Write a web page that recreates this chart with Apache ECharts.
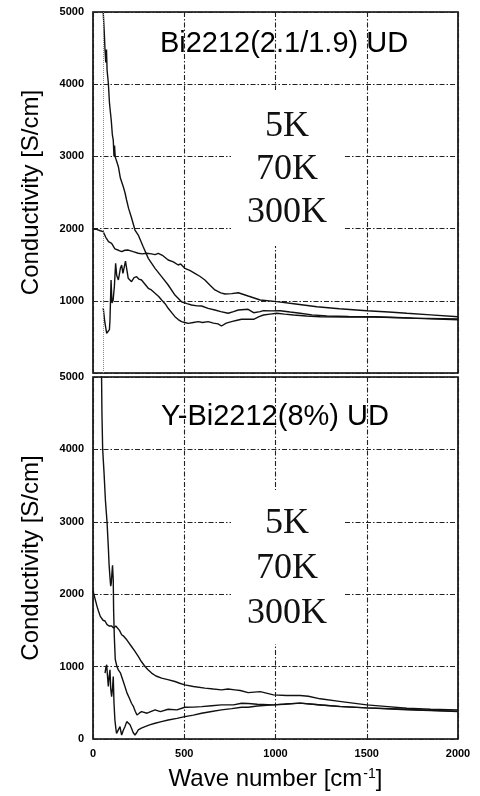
<!DOCTYPE html>
<html>
<head>
<meta charset="utf-8">
<script src="https://cdn.jsdelivr.net/npm/echarts@6/dist/echarts.min.js"></script>
<style>
html,body{margin:0;padding:0;background:#fff;}
#c{width:480px;height:796px;}
</style>
</head>
<body>
<div id="c"></div>
<script>
// ---- data (wave number [cm-1], conductivity [S/cm]) ----
const panelTitles = ['Bi2212(2.1/1.9) UD', 'Y-Bi2212(8%) UD'];
const tempLabels = ['5K', '70K', '300K'];
const xTicks = [0, 500, 1000, 1500, 2000];
const yTicks = [0, 1000, 2000, 3000, 4000, 5000];
const topMarkerX = [55];

const top70K = [[50,5600],[56,5000],[62,4700],[66,4470],[70,4300],[74,4480],[77,4200],[84,4017],[90,3750],[93,3670],[100,3500],[106,3300],[111,3227],[115,3000],[118,3150],[122,2990],[130,2930],[139,2857],[150,2700],[166,2580],[175,2500],[184,2396],[195,2280],[211,2150],[230,1980],[248,1911],[275,1749],[303,1588],[340,1450],[376,1334],[412,1219],[449,1080],[485,987],[515,960],[540,942],[570,930],[595,928],[631,896],[668,873],[700,850],[741,827],[770,850],[796,873],[850,882],[880,835],[916,850],[934,863],[980,860],[1026,863],[1080,845],[1135,827],[1200,805],[1281,789],[1400,782],[1537,780],[1700,765],[1850,750],[2000,738]];
const top300K = [[0,1990],[20,1990],[40,1970],[56,1957],[70,1880],[85,1820],[102,1796],[120,1720],[140,1700],[157,1680],[175,1700],[193,1703],[220,1680],[248,1658],[270,1650],[294,1658],[320,1650],[340,1640],[358,1658],[380,1630],[412,1565],[440,1540],[467,1496],[480,1510],[503,1450],[530,1420],[558,1380],[585,1340],[613,1288],[640,1220],[668,1150],[700,1110],[723,1094],[760,1100],[796,1112],[850,1066],[916,1011],[1007,988],[1100,960],[1227,918],[1350,890],[1500,863],[1620,845],[1720,827],[1850,805],[2000,780]];
const top5K = [[56,900],[65,700],[75,550],[84,526],[90,600],[93,734],[97,1100],[99,1288],[104,970],[110,1000],[117,1195],[124,1519],[130,1350],[139,1288],[150,1450],[157,1496],[164,1380],[171,1400],[178,1550],[184,1565],[193,1311],[211,1265],[225,1320],[239,1334],[252,1300],[266,1288],[285,1230],[303,1173],[320,1150],[340,1104],[360,1060],[376,1011],[395,960],[412,896],[430,840],[449,780],[467,740],[485,711],[503,700],[522,688],[550,700],[577,711],[600,700],[631,711],[660,690],[685,680],[704,651],[730,690],[759,711],[790,730],[814,744],[850,744],[880,744],[910,780],[934,803],[970,815],[1007,827],[1050,815],[1099,803],[1170,790],[1245,780],[1400,775],[1537,775],[1750,760],[2000,748]];

const bot70K = [[42,5300],[47,5000],[49,4500],[53,4000],[60,3700],[68,3300],[77,2992],[84,2650],[88,2415],[93,2230],[97,2110],[100,2150],[104,2300],[107,2400],[109,2410],[111,2200],[113,1773],[117,1400],[122,1100],[131,1001],[139,955],[150,914],[165,800],[175,725],[186,637],[200,560],[211,494],[222,447],[232,380],[241,332],[255,360],[266,378],[296,356],[340,402],[369,378],[412,411],[460,402],[503,439],[550,440],[595,447],[650,460],[704,471],[770,471],[814,494],[850,490],[900,480],[989,471],[1050,480],[1135,495],[1250,470],[1354,447],[1500,430],[1720,410],[1850,395],[2000,385]];
const bot300K = [[0,2050],[10,1950],[22,1832],[30,1769],[40,1694],[55,1640],[66,1630],[77,1579],[90,1560],[102,1561],[113,1533],[125,1560],[131,1555],[145,1500],[157,1440],[168,1420],[185,1370],[211,1278],[230,1210],[248,1140],[265,1070],[285,1001],[300,960],[321,910],[345,870],[376,840],[410,820],[449,794],[475,770],[503,748],[550,725],[613,702],[660,690],[704,679],[740,690],[777,679],[807,670],[850,641],[916,655],[989,610],[1060,600],[1135,600],[1180,590],[1245,555],[1350,520],[1500,471],[1600,450],[1720,425],[1850,410],[2000,402]];
const bot5K = [[66,910],[70,980],[75,1025],[80,850],[84,725],[88,850],[93,955],[97,700],[102,586],[107,700],[111,863],[115,500],[120,263],[125,150],[129,78],[138,100],[148,170],[153,100],[157,55],[166,120],[175,170],[185,240],[193,263],[202,200],[211,148],[220,90],[230,55],[240,90],[248,125],[265,150],[285,170],[310,195],[340,217],[375,240],[412,263],[460,285],[503,309],[550,330],[595,356],[650,380],[704,402],[760,420],[814,439],[850,439],[900,455],[989,471],[1060,485],[1135,495],[1250,470],[1354,450],[1500,430],[1720,405],[1850,392],[2000,380]];

// ---- chart ----
const chart = echarts.init(document.getElementById('c'), null, {renderer: 'canvas'});
const FONT = 'Liberation Sans, Arial, sans-serif';
const gridLine = {show: true, lineStyle: {color: '#222', width: 1.1, type: [5, 2, 1.5, 2]}};
const xStep = xTicks[1] - xTicks[0];
const yStep = yTicks[1] - yTicks[0];

function xAxis(gi, showLabels) {
  return {
    type: 'value', gridIndex: gi,
    min: xTicks[0], max: xTicks[xTicks.length - 1], interval: xStep,
    axisLine: {show: false}, axisTick: {show: false},
    splitLine: gridLine,
    axisLabel: {show: showLabels, color: '#000', fontFamily: FONT, fontWeight: 'bold', fontSize: 11, margin: 9,
      formatter: v => String(v)},
    name: showLabels ? 'Wave number [cm{sup|-1}]' : '',
    nameLocation: 'middle', nameGap: 28,
    nameTextStyle: {
      color: '#000', fontFamily: FONT, fontSize: 24,
      rich: {sup: {fontFamily: FONT, fontSize: 14, color: '#000', verticalAlign: 'top', padding: [0, 0, 8, 1]}}
    }
  };
}
function yAxis(gi, hideZero) {
  return {
    type: 'value', gridIndex: gi,
    min: yTicks[0], max: yTicks[yTicks.length - 1], interval: yStep,
    axisLine: {show: false}, axisTick: {show: false},
    splitLine: gridLine,
    axisLabel: {color: '#000', fontFamily: FONT, fontWeight: 'bold', fontSize: 11, margin: 9,
      formatter: v => (hideZero && v === 0) ? '' : String(v)},
    name: 'Conductivity [S/cm]', nameLocation: 'middle', nameGap: 50,
    nameTextStyle: {color: '#000', fontFamily: FONT, fontSize: 24}
  };
}
function line(name, data, xi, extra) {
  return Object.assign({
    name: name, type: 'line', xAxisIndex: xi, yAxisIndex: xi, data: data,
    showSymbol: false, symbol: 'none', clip: true, smooth: false,
    lineStyle: {color: '#111', width: 1.4}, z: 3
  }, extra || {});
}
const tempText = tempLabels.join('\n');
const serifStyle = {fontFamily: 'Liberation Serif, Times New Roman, serif', fontSize: 36, fontWeight: 'normal', color: '#111'};

chart.setOption({
  animation: false,
  backgroundColor: '#fff',
  grid: [
    {left: 93, top: 12, width: 365, height: 361, show: true, borderColor: '#000', borderWidth: 1.6, backgroundColor: 'transparent', outerBoundsMode: 'none'},
    {left: 93, top: 377, width: 365, height: 362, show: true, borderColor: '#000', borderWidth: 1.6, backgroundColor: 'transparent', outerBoundsMode: 'none'}
  ],
  title: [
    {text: panelTitles[0], left: 284, top: 29, textAlign: 'center', padding: 0,
      textStyle: {fontFamily: FONT, fontSize: 29, fontWeight: 'normal', color: '#000'}},
    {text: panelTitles[1], left: 275, top: 402, textAlign: 'center', padding: 0,
      textStyle: {fontFamily: FONT, fontSize: 29, fontWeight: 'normal', color: '#000'}},
    {text: tempText, left: 271, top: 90, textAlign: 'center', backgroundColor: '#fff', padding: [15, 16, 12, 16],
      textStyle: Object.assign({lineHeight: 43}, serifStyle)},
    {text: tempText, left: 271, top: 490, textAlign: 'center', backgroundColor: '#fff', padding: [11, 16, 8, 16],
      textStyle: Object.assign({lineHeight: 45}, serifStyle)}
  ],
  xAxis: [xAxis(0, false), xAxis(1, true)],
  yAxis: [yAxis(0, true), yAxis(1, false)],
  series: [
    line('70K', top70K, 0),
    line('300K', top300K, 0),
    line('5K', top5K, 0, {
      markLine: {silent: true, symbol: 'none', label: {show: false},
        lineStyle: {color: '#888', type: 'dotted', width: 1},
        data: topMarkerX.map(v => ({xAxis: v}))}
    }),
    line('70K', bot70K, 1),
    line('300K', bot300K, 1),
    line('5K', bot5K, 1)
  ]
});
</script>
</body>
</html>
